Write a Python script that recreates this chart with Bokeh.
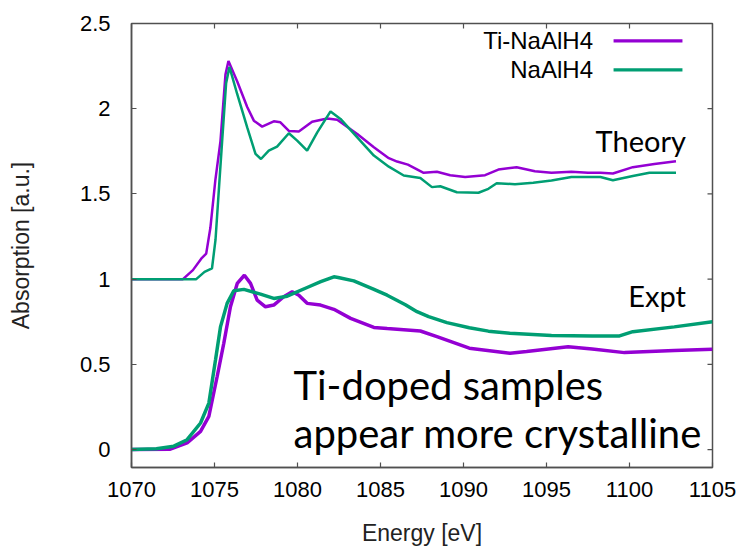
import math
from bokeh.plotting import figure
from bokeh.models import Range1d, FixedTicker, Label, BoxAnnotation
from bokeh.embed import file_html
from bokeh.resources import INLINE

# ---------------- data ----------------
theory_ti_E = [1070, 1073.1, 1073.7, 1074.2, 1074.5, 1074.75, 1075.05, 1075.36, 1075.66, 1075.84,
               1076.37, 1076.97, 1077.37, 1077.87, 1078.57, 1078.97, 1079.48, 1080.08, 1080.88,
               1081.79, 1082.39, 1083.6, 1084.6, 1085.5, 1086.0, 1086.65, 1087.6, 1088.4, 1089.2,
               1090.1, 1091.3, 1092.1, 1093.2, 1094.3, 1095.3, 1096.5, 1097.5, 1098.25, 1099.0,
               1100.2, 1101.5, 1102.8]
theory_ti_A = [1.0, 1.0, 1.053, 1.12, 1.15, 1.30, 1.58, 1.81, 2.2, 2.28,
               2.16, 2.01, 1.93, 1.895, 1.926, 1.92, 1.87, 1.867, 1.924,
               1.943, 1.935, 1.852, 1.774, 1.71, 1.69, 1.672, 1.624, 1.63, 1.61,
               1.60, 1.61, 1.643, 1.657, 1.633, 1.624, 1.63, 1.625, 1.624, 1.62,
               1.657, 1.676, 1.692]

theory_na_E = [1070, 1073.9, 1074.4, 1074.85, 1075.06, 1075.3, 1075.46, 1075.7, 1075.9, 1076.37,
               1076.97, 1077.47, 1077.8, 1078.27, 1078.77, 1079.48, 1079.98, 1080.58, 1081.19,
               1081.99, 1082.59, 1083.6, 1084.6, 1085.5, 1086.4, 1087.4, 1088.1, 1088.6, 1089.6,
               1090.9, 1091.5, 1092.0, 1093.1, 1094.2, 1095.3, 1096.5, 1098.25, 1099.0, 1100.2,
               1101.2, 1102.8]
theory_na_A = [1.0, 1.0, 1.043, 1.064, 1.23, 1.58, 1.81, 2.15, 2.245, 2.085,
               1.89, 1.735, 1.705, 1.754, 1.778, 1.856, 1.813, 1.754, 1.861,
               1.984, 1.94, 1.832, 1.725, 1.66, 1.608, 1.593, 1.54, 1.545, 1.51,
               1.507, 1.53, 1.563, 1.557, 1.565, 1.579, 1.599, 1.599, 1.58, 1.605,
               1.624, 1.624]

expt_ti_E = [1070, 1072.3, 1073.35, 1074.16, 1074.66, 1075.16, 1075.56, 1075.96, 1076.37, 1076.8,
             1077.17, 1077.57, 1078.07, 1078.57, 1079.17, 1079.68, 1080.08, 1080.58, 1081.39,
             1082.19, 1083.2, 1084.6, 1085.4, 1086.0, 1087.4, 1088.4, 1090.35, 1092.8, 1093.8,
             1096.3, 1097.75, 1099.7, 1102.7, 1105]
expt_ti_A = [0, 0.002, 0.039, 0.107, 0.195, 0.429, 0.624, 0.838, 0.975, 1.023,
             0.975, 0.877, 0.838, 0.848, 0.897, 0.926, 0.906, 0.858, 0.848,
             0.823, 0.77, 0.717, 0.71, 0.706, 0.696, 0.663, 0.595, 0.565, 0.575,
             0.604, 0.59, 0.569, 0.582, 0.589]

expt_na_E = [1070, 1071.5, 1072.55, 1073.35, 1074.16, 1074.66, 1075.06, 1075.36, 1075.76, 1076.16,
             1076.77, 1077.77, 1078.57, 1079.38, 1080.58, 1081.4, 1082.19, 1082.45, 1083.39,
             1084.5, 1085.4, 1086.5, 1087.2, 1087.9, 1089.0, 1090.35, 1091.5, 1092.8, 1095.3,
             1097.75, 1099.4, 1100.2, 1102.7, 1105]
expt_na_A = [0, 0.005, 0.02, 0.058, 0.156, 0.273, 0.526, 0.72, 0.858, 0.932,
             0.94, 0.912, 0.887, 0.90, 0.951, 0.985, 1.014, 1.01, 0.99,
             0.945, 0.906, 0.85, 0.809, 0.78, 0.745, 0.715, 0.695, 0.682, 0.67,
             0.667, 0.667, 0.692, 0.72, 0.75]

x_ticks = [1070, 1075, 1080, 1085, 1090, 1095, 1100, 1105]
y_ticks = [0, 0.5, 1, 1.5, 2, 2.5]
y_tick_labels = ["0", "0.5", "1", "1.5", "2", "2.5"]
series_names = ["Ti-NaAlH4", "NaAlH4"]
series_colors = ["#9400D3", "#009E73"]

X_MIN, X_MAX = 1070, 1105
Y_MIN, Y_MAX = -0.105, 2.5

# ---------------- figure ----------------
p = figure(width=741, height=548, output_backend="svg", toolbar_location=None,
           x_range=Range1d(X_MIN, X_MAX), y_range=Range1d(Y_MIN, Y_MAX),
           min_border_left=131, min_border_right=29, min_border_top=23, min_border_bottom=80)
p.background_fill_color = "white"
p.border_fill_color = "white"
p.grid.visible = False
p.outline_line_color = "#505050"
p.outline_line_width = 1.5

p.line(theory_ti_E, theory_ti_A, line_color=series_colors[0], line_width=2.5)
p.line(theory_na_E, theory_na_A, line_color=series_colors[1], line_width=2.5)
p.line(expt_ti_E, expt_ti_A, line_color=series_colors[0], line_width=3.5)
p.line(expt_na_E, expt_na_A, line_color=series_colors[1], line_width=3.5)

# mirrored inward ticks on top and right edges (clipped to the frame -> half visible)
p.scatter(x=x_ticks, y=[Y_MAX] * len(x_ticks), marker="dash", angle=math.pi / 2, size=10,
          line_color="#505050", line_width=1.2)
p.scatter(x=[X_MAX] * len(y_ticks), y=y_ticks, marker="dash", size=10,
          line_color="#505050", line_width=1.2)

font = "Liberation Sans"
for ax in p.xaxis:
    ax.ticker = FixedTicker(ticks=x_ticks)
    ax.axis_label = "Energy [eV]"
    ax.major_label_standoff = 14
    ax.axis_label_standoff = 20
for ax in p.yaxis:
    ax.ticker = FixedTicker(ticks=y_ticks)
    ax.major_label_overrides = {t: s for t, s in zip(y_ticks, y_tick_labels)}
    ax.axis_label = "Absorption [a.u.]"
    ax.major_label_standoff = 21
    ax.axis_label_standoff = 43
for ax in list(p.xaxis) + list(p.yaxis):
    ax.major_label_text_font = font
    ax.major_label_text_font_size = "22px"
    ax.major_label_text_color = "black"
    ax.axis_label_text_font = font
    ax.axis_label_text_font_size = "23px"
    ax.axis_label_text_font_style = "normal"
    ax.axis_label_text_color = "#222222"
    ax.major_tick_in = 5
    ax.major_tick_out = 0
    ax.minor_tick_line_color = None
    ax.axis_line_color = "#505050"
    ax.axis_line_width = 1.5
    ax.major_tick_line_color = "#505050"
    ax.major_tick_line_width = 1.2

# legend (label first, then line, like gnuplot)
leg_y = [2.398, 2.228]
for name, col, yy in zip(series_names, series_colors, leg_y):
    p.add_layout(Label(x=1097.8, y=yy, text=name, text_align="right", text_baseline="middle",
                       text_font=font, text_font_size="24px", text_color="black"))
    p.add_layout(BoxAnnotation(left=1099.04, right=1103.19, bottom=yy - 0.009, top=yy + 0.009,
                               fill_color=col, fill_alpha=1, line_color=None))

ann_font = "Lato"
p.add_layout(Label(x=1103.4, y=1.813, text="Theory", text_align="right", text_baseline="middle",
                   text_font=ann_font, text_font_size="29px", text_color="black"))
p.add_layout(Label(x=1103.4, y=0.906, text="Expt", text_align="right", text_baseline="middle",
                   text_font=ann_font, text_font_size="29px", text_color="black"))
p.add_layout(Label(x=1079.76, y=0.38, text="Ti-doped samples", text_align="left", text_baseline="middle",
                   text_font=ann_font, text_font_size="40px", text_color="black"))
p.add_layout(Label(x=1079.76, y=0.099, text="appear more crystalline", text_align="left", text_baseline="middle",
                   text_font=ann_font, text_font_size="40px", text_color="black"))

open("out.html", "w").write(file_html(p, INLINE))
